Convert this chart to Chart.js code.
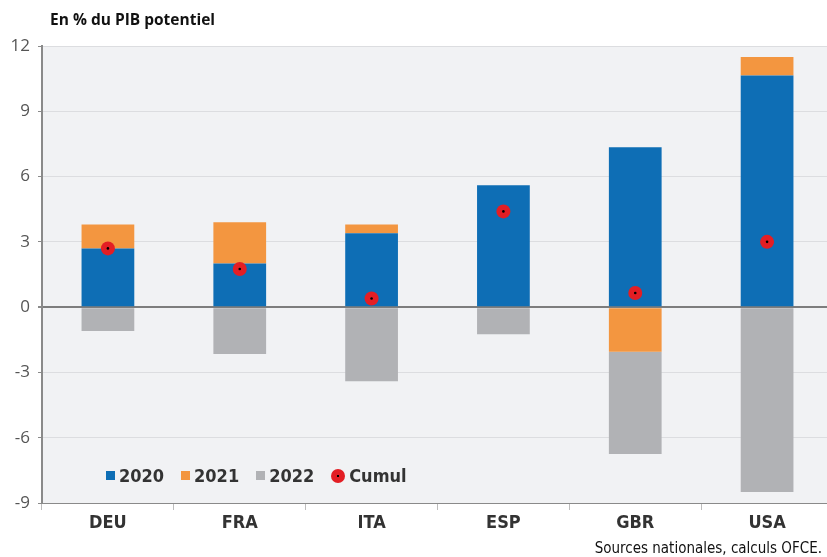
<!DOCTYPE html>
<html>
<head>
<meta charset="utf-8">
<script src="https://cdn.jsdelivr.net/npm/chart.js@4"></script>
<style>
    body { margin: 0; background: #fff; overflow: hidden; }
    #wrap { position: relative; width: 840px; height: 557px; }
    .cond { font-family: 'Liberation Sans Narrow', 'DejaVu Sans Condensed', 'Open Sans', sans-serif; }
    #title { position: absolute; left: 50px; top: 8px; font: bold 15.5px 'Open Sans', sans-serif; color: #111; }
    #legend { position: absolute; left: 106px; top: 465px; display: flex; align-items: center; font-weight: bold; font-size: 18px; color: #333; }
    #legend span.item { display: flex; align-items: center; margin-right: 17px; }
    #legend i { display: inline-block; width: 9px; height: 9px; margin-right: 4px; }
    #legend i.dot { width: 14px; height: 14px; border-radius: 50%; position: relative; }
    #legend i.dot::after { content: ''; position: absolute; left: 6px; top: 6px; width: 2px; height: 2px; background: #000; }
    #source { position: absolute; left: 0; width: 822px; top: 539px; text-align: right; font-size: 15px; color: #111; }
</style>
</head>
<body>
<div id="wrap">
    <canvas id="chart"></canvas>
    <div id="title">En % du PIB potentiel</div>
    <div id="legend" class="cond">
        <span class="item"><i style="background:#0e6eb5"></i>2020</span>
        <span class="item"><i style="background:#f39640"></i>2021</span>
        <span class="item"><i style="background:#b1b2b5"></i>2022</span>
        <span class="item"><i class="dot" style="background:#e31e24"></i>Cumul</span>
    </div>
    <div id="source" class="cond">Sources nationales, calculs OFCE.</div>
</div>
<script>
// Impulsion budgétaire, en % du PIB potentiel
const countries = ['DEU', 'FRA', 'ITA', 'ESP', 'GBR', 'USA'];
const y2020 = [2.7, 2.0, 3.4, 5.6, 7.35, 10.65];
const y2021 = [1.1, 1.9, 0.4, 0.0, -2.05, 0.85];
const y2022 = [-1.1, -2.15, -3.4, -1.25, -4.7, -8.5];
const cumul = [2.7, 1.75, 0.4, 4.4, 0.65, 3.0];
const yTicks = [12, 9, 6, 3, 0, -3, -6, -9];

const FONT = "'Liberation Sans Narrow', 'DejaVu Sans Condensed', 'Open Sans', sans-serif";

// plot background
const plotBg = {
    id: 'plotBg',
    beforeDraw(chart) {
        const { ctx, chartArea: a } = chart;
        ctx.save();
        ctx.fillStyle = '#f1f2f4';
        ctx.fillRect(a.left, a.top, a.right - a.left, a.bottom - a.top);
        ctx.restore();
    }
};

new Chart(document.getElementById('chart'), {
    type: 'bar',
    data: {
        labels: countries,
        datasets: [
            { label: '2020', data: y2020, backgroundColor: '#0e6eb5', stack: 's', order: 3 },
            { label: '2021', data: y2021, backgroundColor: '#f39640', stack: 's', order: 3 },
            { label: '2022', data: y2022, backgroundColor: '#b1b2b5', stack: 's', order: 3 },
            {
                type: 'line', label: 'Cumul', data: cumul, showLine: false, order: 1, stack: 'c1',
                pointRadius: 7, pointHoverRadius: 7, pointBackgroundColor: '#e31e24', pointBorderWidth: 0
            },
            {
                type: 'line', label: 'centre', data: cumul, showLine: false, order: 0, stack: 'c2',
                pointRadius: 1.3, pointBackgroundColor: '#000', pointBorderWidth: 0
            }
        ]
    },
    options: {
        responsive: true,
        maintainAspectRatio: false,
        animation: false,
        layout: { padding: { top: 46, right: 0, bottom: 0, left: 0 } },
        datasets: { bar: { barPercentage: 0.8, categoryPercentage: 0.5 } },
        plugins: { legend: { display: false }, tooltip: { enabled: false } },
        scales: {
            x: {
                stacked: true,
                afterFit: (axis) => { axis.height = 54; },
                border: { color: '#8a8a8a', width: 1 },
                grid: { offset: true, drawOnChartArea: false, tickLength: 7, color: '#bdbdbd' },
                ticks: { color: '#333', padding: 3, font: { family: FONT, size: 18, weight: 'bold' } }
            },
            y: {
                stacked: true,
                min: -9,
                max: 12,
                afterFit: (axis) => { axis.width = 42; },
                afterBuildTicks: (axis) => { axis.ticks = yTicks.map(v => ({ value: v })); },
                border: { color: '#8a8a8a', width: 2 },
                grid: {
                    color: (c) => c.tick && c.tick.value === 0 ? '#7d7d7d' : '#dcdde0',
                    lineWidth: (c) => c.tick && c.tick.value === 0 ? 2 : 1,
                    tickLength: 4,
                    tickColor: '#8a8a8a'
                },
                ticks: { color: '#555', padding: 8, font: { family: "'Open Sans', sans-serif", size: 17 } }
            }
        }
    },
    plugins: [plotBg]
});
</script>
</body>
</html>
